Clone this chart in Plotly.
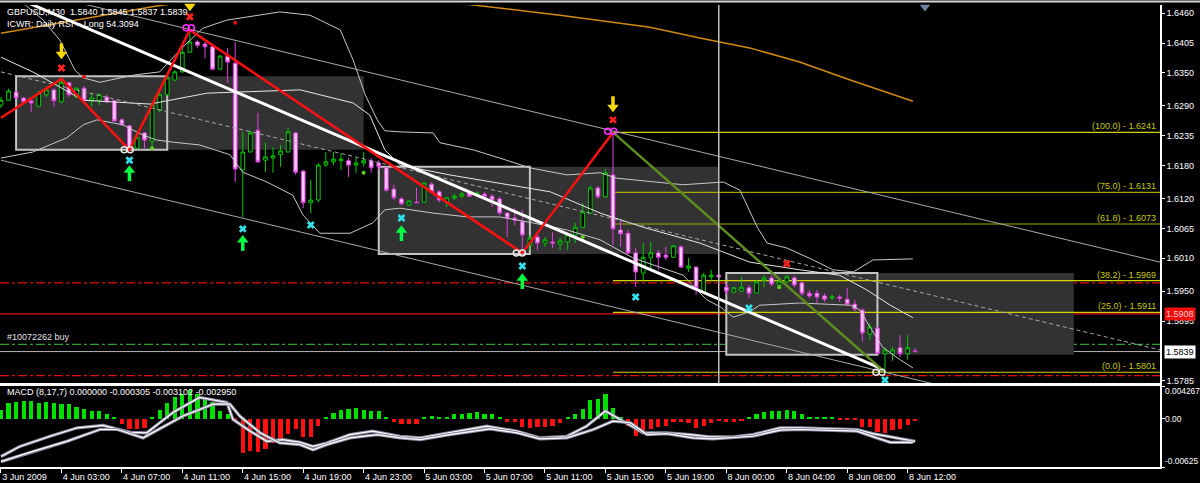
import plotly.graph_objects as go
from plotly.subplots import make_subplots

FONT = "Liberation Sans, Arial, sans-serif"

# ---------------- data ----------------
bar_index = list(range(122))
tick_index = list(range(0, 121, 8))
tick_labels = ["3 Jun 2009", "4 Jun 03:00", "4 Jun 07:00", "4 Jun 11:00", "4 Jun 15:00",
               "4 Jun 19:00", "4 Jun 23:00", "5 Jun 03:00", "5 Jun 07:00", "5 Jun 11:00",
               "5 Jun 15:00", "5 Jun 19:00", "8 Jun 00:00", "8 Jun 04:00", "8 Jun 08:00",
               "8 Jun 12:00"]

opens = [1.6291, 1.6300, 1.6315, 1.6304, 1.6299, 1.6289, 1.6310, 1.6319, 1.6297, 1.6332,
         1.6306, 1.6322, 1.6299, 1.6300, 1.6306, 1.6299, 1.6264, 1.6253, 1.6212, 1.6240,
         1.6225, 1.6282, 1.6310, 1.6337, 1.6352, 1.6388, 1.6407, 1.6403, 1.6398, 1.6357,
         1.6381, 1.6368, 1.6172, 1.6205, 1.6245, 1.6190, 1.6194, 1.6200, 1.6205, 1.6240,
         1.6170, 1.6112, 1.6117, 1.6181, 1.6187, 1.6189, 1.6189, 1.6181, 1.6185, 1.6189,
         1.6185, 1.6176, 1.6137, 1.6119, 1.6108, 1.6113, 1.6113, 1.6146, 1.6132, 1.6113,
         1.6121, 1.6124, 1.6130, 1.6126, 1.6128, 1.6124, 1.6119, 1.6093, 1.6084, 1.6077,
         1.6034, 1.6049, 1.6038, 1.6040, 1.6036, 1.6040, 1.6053, 1.6067, 1.6093, 1.6139,
         1.6123, 1.6163, 1.6062, 1.6056, 1.6020, 1.5983, 1.6011, 1.6020, 1.6016, 1.6012,
         1.6031, 1.5992, 1.5994, 1.5948, 1.5976, 1.5979, 1.5957, 1.5948, 1.5950, 1.5956,
         1.5946, 1.5970, 1.5974, 1.5961, 1.5967, 1.5974, 1.5965, 1.5946, 1.5946, 1.5941,
         1.5937, 1.5939, 1.5935, 1.5926, 1.5915, 1.5871, 1.5882, 1.5835, 1.5835, 1.5846,
         1.5835, 1.5840]
highs = [1.6306, 1.6321, 1.6317, 1.6306, 1.6300, 1.6317, 1.6322, 1.6322, 1.6339, 1.6333,
         1.6324, 1.6326, 1.6313, 1.6313, 1.6310, 1.6300, 1.6267, 1.6255, 1.6242, 1.6242,
         1.6295, 1.6315, 1.6344, 1.6355, 1.6396, 1.6429, 1.6410, 1.6407, 1.6399, 1.6383,
         1.6396, 1.6407, 1.6242, 1.6245, 1.6277, 1.6222, 1.6214, 1.6218, 1.6249, 1.6242,
         1.6172, 1.6154, 1.6185, 1.6205, 1.6205, 1.6203, 1.6194, 1.6194, 1.6205, 1.6194,
         1.6190, 1.6178, 1.6145, 1.6123, 1.6117, 1.6139, 1.6150, 1.6150, 1.6135, 1.6121,
         1.6128, 1.6132, 1.6133, 1.6133, 1.6132, 1.6128, 1.6123, 1.6095, 1.6102, 1.6099,
         1.6053, 1.6058, 1.6049, 1.6058, 1.6049, 1.6056, 1.6075, 1.6112, 1.6143, 1.6143,
         1.6174, 1.6241, 1.6080, 1.6062, 1.6029, 1.6038, 1.6040, 1.6025, 1.6031, 1.6034,
         1.6034, 1.6011, 1.5994, 1.5983, 1.5989, 1.5983, 1.5965, 1.5957, 1.5976, 1.5961,
         1.5970, 1.5979, 1.5979, 1.5974, 1.5979, 1.5979, 1.5967, 1.5952, 1.5952, 1.5946,
         1.5943, 1.5943, 1.5956, 1.5934, 1.5919, 1.5891, 1.5884, 1.5846, 1.5847, 1.5869,
         1.5869, 1.5845]
lows = [1.6286, 1.6299, 1.6303, 1.6295, 1.6278, 1.6288, 1.6306, 1.6288, 1.6295, 1.6306,
        1.6304, 1.6299, 1.6288, 1.6291, 1.6295, 1.6262, 1.6253, 1.6209, 1.6212, 1.6212,
        1.6214, 1.6278, 1.6308, 1.6335, 1.6350, 1.6388, 1.6396, 1.6377, 1.6355, 1.6355,
        1.6332, 1.6150, 1.6086, 1.6205, 1.6185, 1.6168, 1.6167, 1.6178, 1.6205, 1.6163,
        1.6102, 1.6093, 1.6113, 1.6178, 1.6181, 1.6172, 1.6159, 1.6167, 1.6178, 1.6167,
        1.6172, 1.6132, 1.6117, 1.6108, 1.6106, 1.6112, 1.6112, 1.6130, 1.6113, 1.6104,
        1.6117, 1.6121, 1.6123, 1.6123, 1.6121, 1.6104, 1.6089, 1.6049, 1.6071, 1.6020,
        1.6025, 1.6025, 1.6031, 1.6029, 1.6025, 1.6025, 1.6038, 1.6066, 1.6091, 1.6119,
        1.6121, 1.6034, 1.6031, 1.6018, 1.5957, 1.5970, 1.5989, 1.5989, 1.6007, 1.6011,
        1.5992, 1.5985, 1.5943, 1.5946, 1.5970, 1.5974, 1.5943, 1.5946, 1.5948, 1.5937,
        1.5946, 1.5957, 1.5959, 1.5954, 1.5965, 1.5957, 1.5941, 1.5937, 1.5928, 1.5930,
        1.5934, 1.5930, 1.5924, 1.5913, 1.5857, 1.5860, 1.5835, 1.5801, 1.5822, 1.5829,
        1.5824, 1.5837]
closes = [1.6300, 1.6317, 1.6304, 1.6297, 1.6295, 1.6313, 1.6319, 1.6299, 1.6333, 1.6310,
          1.6322, 1.6300, 1.6304, 1.6310, 1.6297, 1.6262, 1.6255, 1.6212, 1.6231, 1.6227,
          1.6291, 1.6310, 1.6341, 1.6352, 1.6388, 1.6407, 1.6401, 1.6398, 1.6357, 1.6381,
          1.6370, 1.6174, 1.6205, 1.6240, 1.6187, 1.6196, 1.6198, 1.6207, 1.6242, 1.6168,
          1.6112, 1.6117, 1.6181, 1.6187, 1.6192, 1.6192, 1.6181, 1.6185, 1.6189, 1.6176,
          1.6178, 1.6135, 1.6121, 1.6110, 1.6115, 1.6112, 1.6148, 1.6132, 1.6117, 1.6121,
          1.6124, 1.6128, 1.6124, 1.6130, 1.6123, 1.6117, 1.6093, 1.6084, 1.6080, 1.6053,
          1.6047, 1.6038, 1.6044, 1.6038, 1.6042, 1.6053, 1.6067, 1.6095, 1.6139, 1.6123,
          1.6167, 1.6064, 1.6055, 1.6020, 1.5985, 1.6012, 1.6020, 1.6012, 1.6012, 1.6033,
          1.5994, 1.5996, 1.5956, 1.5979, 1.5979, 1.5976, 1.5950, 1.5956, 1.5957, 1.5946,
          1.5967, 1.5974, 1.5963, 1.5968, 1.5976, 1.5961, 1.5946, 1.5941, 1.5939, 1.5935,
          1.5939, 1.5937, 1.5926, 1.5917, 1.5873, 1.5884, 1.5836, 1.5842, 1.5842, 1.5835,
          1.5846, 1.5839]

# MACD histogram (units of 1e-4)
macd_hist_e4 = [11.8, 20.5, 21.8, 23.1, 23.1, 20.5, 21.8, 20.5, 18.8, 18.8,
                15.2, 13.1, 10.0, 10.0, 6.6, 1.2, -6.6, -13.1, -13.1, -11.8,
                1.2, 10.9, 20.5, 28.4, 32.9, 38.1, 32.9, 27.6, 21.8, 10.0,
                6.6, -1.5, -44.7, -41.7, -43.4, -39.4, -31.6, -28.9, -19.7, -13.8,
                -23.7, -24.2, -9.2, 1.2, 7.4, 11.8, 13.1, 13.8, 11.8, 10.0,
                10.0, 3.0, -4.3, -6.6, -6.6, -6.6, 1.3, 4.3, 3.0, 3.0,
                6.6, 6.6, 7.9, 8.7, 6.6, 5.7, 1.2, -4.3, -4.3, -10.1,
                -11.8, -10.9, -10.1, -8.8, -5.7, 1.2, 6.6, 13.1, 24.1, 25.4,
                31.9, 14.5, 3.0, -8.8, -22.0, -19.7, -13.1, -10.9, -8.8, -4.3,
                -4.3, -5.7, -11.8, -8.8, -5.7, -3.0, -4.3, -4.3, -3.0, 1.2,
                5.7, 8.7, 10.0, 10.0, 11.3, 10.0, 5.7, 1.2, 1.2, 1.2,
                1.2, -1.2, -1.2, -1.2, -10.9, -10.9, -17.5, -18.8, -14.5, -13.1,
                -7.9, -3.0]
macd_a_idx = [0, 2.5, 6.5, 10.1, 13.5, 15.4, 17.1, 19.3, 22.8, 26.3, 29.9, 30.7, 33, 35.2,
              37.3, 39.6, 41.3, 43.1, 46.2, 49.2, 52.8, 55.5, 59.4, 64.3, 68.3, 71.3, 74.9,
              77.5, 80, 81.9, 85, 88.1, 91.2, 93.8, 96.9, 99.5, 103.1, 105.8, 109.7, 113.3,
              115.4, 117.7, 120.3, 121]
macd_a_e4 = [-48.9, -35.8, -22.6, -11.6, -8.5, -12.9, -17.4, -18.1, 8.5, 27.9, 21.3, -0.7,
             -16.0, -29.2, -27.0, -30.5, -35.8, -31.3, -20.4, -16.0, -22.6, -24.7, -18.1,
             -9.5, -16.0, -24.7, -22.6, -9.5, 10.3, -0.7, -18.1, -18.1, -20.4, -23.4, -23.4,
             -20.4, -11.6, -11.6, -12.9, -13.8, -19.1, -23.4, -27.9, -29.2]
macd_b_idx = [0, 4.2, 8.7, 13.1, 15.4, 18.8, 24.1, 28.1, 30.3, 31.6, 34.3, 36.9, 39.6, 41.3,
              43.1, 46.2, 49.8, 52.8, 55.5, 59.4, 64.7, 68.3, 71.3, 74.9, 78.4, 81, 83.3,
              85.5, 88.1, 91.6, 94.2, 99.5, 103.1, 105.8, 113.3, 115.9, 117.7, 120.7]
macd_b_e4 = [-55.5, -42.3, -29.2, -13.8, -13.8, -24.7, 3.7, 19.1, 19.1, 3.7, -18.1, -31.3,
             -33.5, -40.1, -33.5, -24.7, -20.4, -24.7, -27.0, -20.4, -12.9, -18.1, -26.0,
             -24.7, -13.8, -2.9, -5.0, -20.4, -19.1, -24.7, -26.0, -22.6, -14.7, -13.8,
             -16.0, -24.7, -30.5, -30.5]
macd_ticks = [0.004267, 0.0, -0.00625]

# Bollinger-like bands (bar index, price)
bb_upper_idx = [3.2, 5.6, 7.8, 9.8, 10.9, 13.1, 17.5, 21.0, 24.1, 26.7, 29.9, 32.6, 36.9, 40.9,
                44.9, 46.6, 48.2, 49.8, 50.8, 52.8, 57.2, 58.1, 62.5, 66.0, 70.0, 74.9, 79.3,
                81.5, 83.6, 90.3, 95.6, 97.8, 100.1, 101.4, 104.0, 107.5, 110.1, 112.8, 115.4,
                120.7]
bb_upper = [1.6475, 1.6447, 1.6410, 1.6355, 1.6341, 1.6333, 1.6346, 1.6352, 1.6398, 1.6432,
            1.6447, 1.6453, 1.6462, 1.6456, 1.6429, 1.6374, 1.6310, 1.6264, 1.6244, 1.6242,
            1.6240, 1.6222, 1.6209, 1.6194, 1.6176, 1.6163, 1.6167, 1.6157, 1.6154, 1.6145,
            1.6150, 1.6135, 1.6067, 1.6038, 1.6029, 1.6007, 1.5989, 1.5985, 1.6007, 1.6009]
bb_mid_idx = [0, 4.2, 10.9, 19.7, 27.3, 39.6, 46.6, 48.8, 50.8, 52.8, 59.4, 66.0, 72.7, 79.3,
              85.0, 92.5, 99.1, 105.7, 111.0, 114.6, 117.7, 120.7]
bb_mid = [1.6379, 1.6352, 1.6300, 1.6293, 1.6313, 1.6319, 1.6295, 1.6273, 1.6209, 1.6181,
          1.6163, 1.6148, 1.6132, 1.6093, 1.6067, 1.6038, 1.6003, 1.5989, 1.5979, 1.5952,
          1.5924, 1.5901]
bb_lower_idx = [0, 4.2, 8.7, 10.9, 12.7, 16.1, 18.8, 20.6, 22.8, 26.3, 30.3, 32.0, 35.2, 38.6,
                40.0, 42.2, 46.2, 49.2, 50.8, 52.8, 57.2, 61.7, 66.0, 70.4, 74.9, 79.3, 83.6,
                90.3, 92.1, 93.4, 95.2, 96.9, 99.1, 100.4, 105.7, 112.4, 113.7, 115.0, 116.7,
                119.0, 120.7]
bb_lower = [1.6194, 1.6205, 1.6231, 1.6255, 1.6264, 1.6255, 1.6236, 1.6227, 1.6223, 1.6218,
            1.6200, 1.6168, 1.6150, 1.6126, 1.6089, 1.6056, 1.6056, 1.6075, 1.6099, 1.6102,
            1.6093, 1.6086, 1.6086, 1.6075, 1.6062, 1.6044, 1.6011, 1.5979, 1.5952, 1.5934,
            1.5921, 1.5902, 1.5912, 1.5924, 1.5928, 1.5924, 1.5915, 1.5884, 1.5847, 1.5824,
            1.5809]

# long moving average (orange)
ma_idx = [0, 20.6, 30, 40, 50, 62, 74, 85.9, 92.5, 99.1, 105.7, 112.4, 120.7]
ma_vals = [1.6423, 1.6473, 1.6490, 1.6498, 1.6495, 1.6475, 1.6456, 1.6434, 1.6414, 1.6396,
           1.6370, 1.6337, 1.6298]

# regression channel (ends)
reg_idx = [0, 153.4]
reg_upper = [1.6513, 1.6003]
reg_mid = [1.6352, 1.5842]
reg_lower = [1.6190, 1.5680]

# thick trend line
trend_idx = [0, 116.3]
trend_vals = [1.6500, 1.5809]

# zigzag
zz_idx = [0, 8, 17, 25, 69, 81]
zz_vals = [1.6268, 1.6339, 1.6209, 1.6429, 1.6020, 1.6241]
fib_leg_idx = [81, 117]
fib_leg_vals = [1.6241, 1.5801]

# fibonacci levels
fib_levels = [1.6241, 1.6131, 1.6073, 1.5969, 1.5911, 1.5801]
fib_pcts = ["100.0", "75.0", "61.8", "38.2", "25.0", "0.0"]
fib_start = 81

# boxes
box_start = [2, 50, 96]
box_end = [22, 70, 116]
box_ext = [48, 95, 142]
box_top = [1.6344, 1.6178, 1.5983]
box_bottom = [1.6209, 1.6018, 1.5833]

# horizontal levels
red_dash_levels = [1.5965, 1.5795]
red_level = 1.5908
order_level = 1.5852
bid_level = 1.5839
vline_idx = 95

# signal markers
yellow_arrow_idx = [8, 25, 81]
yellow_arrow_vals = [1.6388, 1.6476, 1.6291]
red_x_idx = [8, 25, 81, 104]
red_x_vals = [1.6359, 1.6453, 1.6264, 1.6000]
magenta_o_idx = [24.5, 25.2, 80.3, 81.1]
magenta_o_vals = [1.6433, 1.6433, 1.6243, 1.6243]
white_o_idx = [16.3, 17.1, 68.2, 69.0, 115.8, 116.6]
white_o_vals = [1.6209, 1.6209, 1.6020, 1.6020, 1.5801, 1.5801]
cyan_x_idx = [17, 32, 41, 53, 69, 84, 99, 117]
cyan_x_vals = [1.6190, 1.6064, 1.6071, 1.6084, 1.5996, 1.5939, 1.5919, 1.5787]
green_arrow_idx = [17, 32, 53, 69]
green_arrow_vals = [1.6168, 1.6040, 1.6058, 1.5970]
red_dot_idx = [11, 31]
red_dot_vals = [1.6343, 1.6442]
green_dot_idx = [20, 48, 77, 103]
green_dot_vals = [1.6212, 1.6167, 1.6049, 1.5957]

price_ticks = [1.6460, 1.6405, 1.6350, 1.6290, 1.6235, 1.6180, 1.6120, 1.6065, 1.6010,
               1.5950, 1.5895, 1.5785]
price_range = [1.57813, 1.64747]
x_range = [-0.13, 153.4]

header1 = "GBPUSD,M30  1.5840 1.5845 1.5837 1.5839"
header2 = "ICWR: Daily RSI = Long 54.3094"
macd_title = "MACD (8,17,7) 0.000000 -0.000305 -0.003102 -0.002950"
order_label = "#10072262 buy"

# ---------------- figure ----------------
fig = make_subplots(rows=2, cols=1, shared_xaxes=False)

fig.add_trace(go.Candlestick(
    x=bar_index, open=opens, high=highs, low=lows, close=closes,
    increasing=dict(line=dict(color="#00C800", width=1), fillcolor="#000000"),
    decreasing=dict(line=dict(color="#E040E0", width=1), fillcolor="#FFC8FF"),
    whiskerwidth=0, showlegend=False, hoverinfo="skip"), row=1, col=1)


def line(xs, ys, color, width, dash="solid", row=1):
    fig.add_trace(go.Scatter(x=xs, y=ys, mode="lines",
                             line=dict(color=color, width=width, dash=dash),
                             showlegend=False, hoverinfo="skip"), row=row, col=1)


line(bb_upper_idx, bb_upper, "#C8C8C8", 1)
line(bb_mid_idx, bb_mid, "#E8E8E8", 1)
line(bb_lower_idx, bb_lower, "#C8C8C8", 1)
line(ma_idx, ma_vals, "#D08A10", 1.5)
line(reg_idx, reg_upper, "#A8A8A8", 1)
line(reg_idx, reg_mid, "#A8A8A8", 1, "4px,3px")
line(reg_idx, reg_lower, "#A8A8A8", 1)
line(trend_idx, trend_vals, "#FFFFFF", 3)
line(zz_idx, zz_vals, "#FF1010", 2.5)
line(fib_leg_idx, fib_leg_vals, "#5E8C1E", 2.5)


def markers(xs, ys, symbol, color, size, lw=0, lc=None, yshift_px=0):
    # yshift_px moves the mark in screen pixels (converted with the axis scale)
    px_per_price = 378 / (price_range[1] - price_range[0])
    ys2 = [y + yshift_px / px_per_price for y in ys]
    fig.add_trace(go.Scatter(x=xs, y=ys2, mode="markers", cliponaxis=False,
                             marker=dict(symbol=symbol, color=color, size=size,
                                         line=dict(width=lw, color=lc or color)),
                             showlegend=False, hoverinfo="skip"), row=1, col=1)


markers(yellow_arrow_idx, yellow_arrow_vals, "line-ns", "#F5D800", 7, 3.5, "#F5D800", 4)
markers(yellow_arrow_idx, yellow_arrow_vals, "triangle-down", "#F5D800", 10, 0, None, -2)
markers(red_x_idx, red_x_vals, "x", "#FF2020", 7)
markers(magenta_o_idx, magenta_o_vals, "circle-open", "#FF30FF", 6, 1.5)
markers(white_o_idx, white_o_vals, "circle-open", "#E8E8E8", 6, 1.5)
markers(cyan_x_idx, cyan_x_vals, "x", "#30E0E8", 7)
markers(green_arrow_idx, green_arrow_vals, "line-ns", "#00FF40", 7, 3.5, "#00FF40", -4)
markers(green_arrow_idx, green_arrow_vals, "triangle-up", "#00FF40", 10, 0, None, 2)
markers(red_dot_idx, red_dot_vals, "circle", "#E01010", 4)
markers(green_dot_idx, green_dot_vals, "circle", "#60D020", 4)
markers([122.3], [1.6471], "triangle-down", "#7080A0", 9)

# MACD histogram + lines
hist_vals = [v * 1e-4 for v in macd_hist_e4]
fig.add_trace(go.Bar(x=bar_index, y=hist_vals, width=0.55,
                     marker=dict(color=["#00E000" if v > 0 else "#FF1010" for v in hist_vals],
                                 line=dict(width=0)),
                     showlegend=False, hoverinfo="skip"), row=2, col=1)
for xs, ys in [(macd_a_idx, macd_a_e4), (macd_b_idx, macd_b_e4)]:
    vals = [v * 1e-4 for v in ys]
    line(xs, vals, "#8A8AA0", 3.2, row=2)
    line(xs, vals, "#FFFFFF", 1.2, row=2)

# ---------------- shapes ----------------
shapes = []
for s, e, t, b in zip(box_start, box_ext, box_top, box_bottom):
    shapes.append(dict(type="rect", xref="x", yref="y", x0=s, x1=e, y0=b, y1=t,
                       fillcolor="#323232", line=dict(width=0), layer="below"))
for s, e, t, b in zip(box_start, box_end, box_top, box_bottom):
    shapes.append(dict(type="rect", xref="x", yref="y", x0=s, x1=e, y0=b, y1=t,
                       line=dict(color="#C4C4C4", width=2), layer="below"))
for lvl in red_dash_levels:
    shapes.append(dict(type="line", xref="paper", yref="y", x0=0, x1=1, y0=lvl, y1=lvl,
                       line=dict(color="#E01010", width=1.2, dash="dashdot"), layer="below"))
shapes.append(dict(type="line", xref="paper", yref="y", x0=0, x1=1, y0=red_level, y1=red_level,
                   line=dict(color="#E01010", width=1.2), layer="below"))
shapes.append(dict(type="line", xref="paper", yref="y", x0=0, x1=1, y0=order_level,
                   y1=order_level, line=dict(color="#2EA02E", width=1.2, dash="dashdot"),
                   layer="below"))
shapes.append(dict(type="line", xref="paper", yref="y", x0=0, x1=1, y0=bid_level, y1=bid_level,
                   line=dict(color="#B4B4B4", width=1), layer="below"))
for lvl, pct in zip(fib_levels, fib_pcts):
    col = "#A8A800" if pct in ("75.0", "61.8") else "#D2D200"
    shapes.append(dict(type="line", xref="x", yref="y", x0=fib_start, x1=x_range[1],
                       y0=lvl, y1=lvl, line=dict(color=col, width=1.2), layer="below"))
shapes.append(dict(type="line", xref="x", yref="y domain", x0=vline_idx, x1=vline_idx,
                   y0=0, y1=1, line=dict(color="#C0C0C0", width=1.5)))
shapes.append(dict(type="line", xref="paper", yref="paper", x0=0, x1=1.05,
                   y0=1.0075, y1=1.0075, line=dict(color="#D8D8D8", width=2)))

# ---------------- annotations ----------------
ann = []
tf = dict(family=FONT, size=9, color="#FFFFFF")
ann.append(dict(text=header1, xref="paper", yref="paper", x=0.0043, y=0.9848,
                xanchor="left", yanchor="middle", showarrow=False, font=tf))
ann.append(dict(text=header2, xref="paper", yref="paper", x=0.0043, y=0.9589,
                xanchor="left", yanchor="middle", showarrow=False, font=tf))
ann.append(dict(text=macd_title, xref="paper", yref="paper", x=0.0043, y=0.1623,
                xanchor="left", yanchor="middle", showarrow=False, font=tf))
ann.append(dict(text=order_label, xref="paper", yref="y", x=0.0043, y=order_level,
                yshift=7, xanchor="left", yanchor="middle", showarrow=False,
                font=dict(family=FONT, size=9, color="#E0E0E0")))
for lvl, pct in zip(fib_levels, fib_pcts):
    ann.append(dict(text=f"({pct}) - {lvl:.4f}", xref="paper", yref="y", x=0.9983, y=lvl,
                    xanchor="right", yanchor="bottom", yshift=-1, showarrow=False,
                    font=dict(family=FONT, size=9, color="#C8C800")))
ann.append(dict(text=f"{red_level:.4f}", xref="paper", yref="y", x=1.0034, y=red_level,
                xanchor="left", yanchor="middle", showarrow=False, bgcolor="#F01010",
                borderpad=1, font=dict(family=FONT, size=9, color="#FFC8C8")))
ann.append(dict(text=f"{bid_level:.4f}", xref="paper", yref="y", x=1.0034, y=bid_level,
                xanchor="left", yanchor="middle", showarrow=False, bgcolor="#FFFFFF",
                borderpad=1, font=dict(family=FONT, size=9, color="#000000")))
macd_text = ["0.004267", "0.00", "-0.00625"]
macd_shift = [-5, 0, 6]
for v, t, sh in zip(macd_ticks, macd_text, macd_shift):
    ann.append(dict(text=t, xref="paper", yref="y2", x=1.0026, y=v, yshift=sh,
                    xanchor="left", yanchor="middle", showarrow=False,
                    font=dict(family=FONT, size=8.4, color="#FFFFFF")))

fig.update_layout(
    template="none",
    width=1200, height=483,
    margin=dict(l=0, r=40, t=5, b=16, autoexpand=False),
    paper_bgcolor="#000000", plot_bgcolor="#000000",
    shapes=shapes, annotations=ann, bargap=0,
    font=dict(family=FONT, size=9, color="#FFFFFF"),
    xaxis=dict(range=x_range, domain=[0, 1], showgrid=False, zeroline=False,
               showticklabels=False, showline=True, linecolor="#FFFFFF", linewidth=1.5,
               rangeslider=dict(visible=False), anchor="y", automargin=False),
    xaxis2=dict(range=x_range, domain=[0, 1], showgrid=False, zeroline=False,
                tickvals=tick_index, ticktext=tick_labels, ticks="outside", ticklen=4,
                tickcolor="#FFFFFF", ticklabelposition="outside right",
                tickfont=dict(family=FONT, size=9, color="#FFFFFF"),
                showline=True, mirror=True, linecolor="#FFFFFF", linewidth=1.5,
                anchor="y2", automargin=False),
    yaxis=dict(range=price_range, domain=[0.1818, 1], side="right", showgrid=False,
               zeroline=False, tickvals=price_ticks,
               ticktext=[f"{v:.4f}" for v in price_ticks], ticks="outside", ticklen=3,
               tickcolor="#FFFFFF", tickfont=dict(family=FONT, size=9, color="#FFFFFF"),
               showline=True, linecolor="#FFFFFF", linewidth=1.5, anchor="x",
               automargin=False),
    yaxis2=dict(range=[macd_ticks[2], macd_ticks[0]], domain=[0, 0.1753], side="right",
                showgrid=False, zeroline=False, tickvals=macd_ticks, showticklabels=False,
                ticks="outside", ticklen=3, tickcolor="#FFFFFF",
                showline=True, linecolor="#FFFFFF", linewidth=1.5, anchor="x2",
                automargin=False),
)

fig.write_html("out.html", config={"displayModeBar": False},
               post_script="document.body.style.margin='0';document.body.style.background='#000';")
